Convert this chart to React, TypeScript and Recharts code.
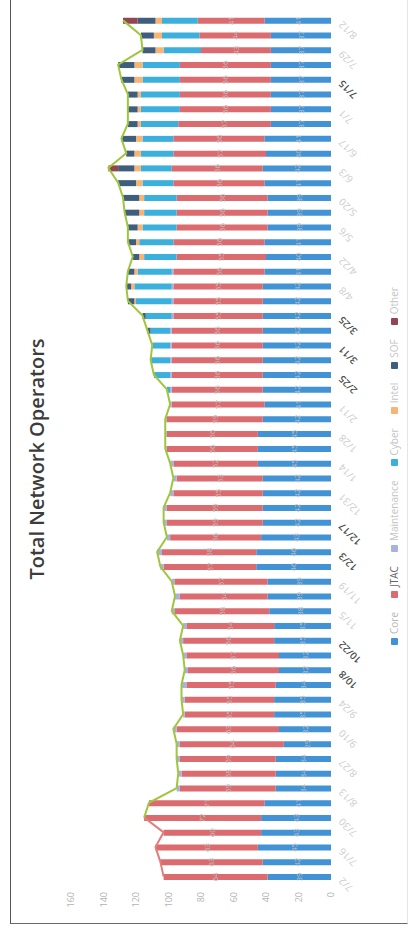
import React from 'react';
import { ComposedChart, Bar, Line, XAxis, YAxis, LabelList } from 'recharts';

// chart is laid out landscape, then turned a quarter turn to sit in the page
const CHART_W = 930;
const CHART_H = 396;

const weeks = [
  '7/2', '7/9', '7/16', '7/23', '7/30', '8/6', '8/13', '8/20', '8/27', '9/3',
  '9/10', '9/17', '9/24', '10/1', '10/8', '10/15', '10/22', '10/29', '11/5', '11/12',
  '11/19', '11/26', '12/3', '12/10', '12/17', '12/24', '12/31', '1/7', '1/14', '1/21',
  '1/28', '2/4', '2/11', '2/18', '2/25', '3/4', '3/11', '3/18', '3/25', '4/1',
  '4/8', '4/15', '4/22', '4/29', '5/6', '5/13', '5/20', '5/27', '6/3', '6/10',
  '6/17', '6/24', '7/1', '7/8', '7/15', '7/22', '7/29', '8/5', '8/12',
];

const core = [
  39, 42, 45, 43, 43, 41, 34, 34, 34, 29, 32, 35, 35, 34, 32, 32, 35, 35, 38, 39,
  39, 46, 46, 43, 42, 42, 42, 42, 45, 45, 45, 42, 41, 42, 42, 42, 42, 42, 42, 42,
  42, 41, 40, 41, 39, 39, 39, 41, 42, 40, 41, 37, 37, 37, 37, 37, 37, 37, 41,
];
const jtac = [
  64, 63, 63, 60, 72, 71, 59, 58, 59, 64, 63, 55, 55, 55, 56, 57, 56, 54, 58, 54,
  57, 57, 58, 56, 59, 59, 55, 53, 52, 56, 56, 59, 57, 56, 56, 56, 56, 56, 55, 55,
  55, 56, 55, 56, 56, 56, 56, 56, 56, 57, 56, 57, 56, 56, 56, 56, 43, 44, 41,
];
const maintenance = [
  0, 0, 0, 0, 0, 0, 2, 2, 2, 2, 2, 1, 2, 3, 2, 2, 2, 2, 2, 3,
  2, 2, 3, 2, 2, 2, 2, 2, 2, 1, 1, 1, 1, 1, 1, 1, 1, 1, 1, 1,
  1, 1, 0, 0, 0, 0, 0, 0, 0, 0, 0, 0, 0, 0, 0, 0, 0, 0, 0,
];
const cyber = [
  0, 0, 0, 0, 0, 0, 0, 0, 0, 0, 0, 0, 0, 0, 0, 0, 0, 0, 0, 0,
  0, 0, 0, 0, 0, 0, 0, 0, 0, 0, 0, 0, 0, 2, 10, 12, 11, 12, 16, 22,
  23, 21, 20, 21, 21, 20, 20, 19, 19, 20, 19, 23, 24, 24, 23, 23, 23, 23, 22,
];
const intel = [
  0, 0, 0, 0, 0, 0, 0, 0, 0, 0, 0, 0, 0, 0, 0, 0, 0, 0, 0, 0,
  0, 0, 0, 0, 0, 0, 0, 0, 0, 0, 0, 0, 0, 0, 0, 0, 0, 0, 0, 1,
  2, 2, 3, 2, 3, 3, 3, 4, 4, 4, 4, 2, 2, 2, 5, 5, 5, 5, 4,
];
const sof = [
  0, 0, 0, 0, 0, 0, 0, 0, 0, 0, 0, 0, 0, 0, 0, 0, 0, 0, 0, 0,
  0, 0, 0, 0, 0, 0, 0, 0, 0, 0, 0, 0, 0, 0, 0, 0, 0, 2, 2, 4,
  3, 4, 4, 5, 6, 9, 10, 11, 10, 5, 9, 6, 6, 6, 8, 10, 8, 8, 11,
];
const other = [
  0, 0, 0, 0, 0, 0, 0, 0, 0, 0, 0, 0, 0, 0, 0, 0, 0, 0, 0, 0,
  0, 0, 0, 0, 0, 0, 0, 0, 0, 0, 0, 0, 0, 0, 0, 0, 0, 0, 0, 0,
  0, 0, 0, 0, 0, 0, 0, 0, 6, 0, 0, 0, 0, 0, 0, 0, 0, 0, 9,
];

// the old count format ran until the 5th week, the new one picks up from there
const SWITCH_WEEK = 4;

const darkLabels = ['10/8', '10/22', '12/3', '12/17', '2/25', '3/11', '3/25', '7/15'];

const series = [
  { key: 'core', name: 'Core', color: '#4193d6', text: '#b8b8b8' },
  { key: 'jtac', name: 'JTAC', color: '#dc6b6f', text: '#666' },
  { key: 'maintenance', name: 'Maintenance', color: '#a9b1e0', text: '#c4c4c4' },
  { key: 'cyber', name: 'Cyber', color: '#3cb0dc', text: '#c4c4c4' },
  { key: 'intel', name: 'Intel', color: '#f8b472', text: '#c4c4c4' },
  { key: 'sof', name: 'SOF', color: '#3f5e7e', text: '#c4c4c4' },
  { key: 'other', name: 'Other', color: '#944552', text: '#c4c4c4' },
];

const rows = weeks.map((week, i) => {
  const total = core[i] + jtac[i] + maintenance[i] + cyber[i] + intel[i] + sof[i] + other[i];
  return {
    week,
    core: core[i],
    jtac: jtac[i],
    maintenance: maintenance[i],
    cyber: cyber[i],
    intel: intel[i],
    sof: sof[i],
    other: other[i],
    oldTotal: i <= SWITCH_WEEK ? total : null,
    total: i >= SWITCH_WEEK ? total : null,
  };
});

const WeekTick = (props: any) => {
  const { x, y, payload } = props;
  const dark = darkLabels.includes(payload.value);
  return (
    <text
      x={x}
      y={y + 4}
      transform={`rotate(-45 ${x} ${y + 4})`}
      textAnchor="end"
      fontSize={10}
      fontWeight={dark ? 600 : 400}
      fill={dark ? '#4a4a4a' : '#cdcdcd'}
    >
      {payload.value}
    </text>
  );
};

// legend kept in plain html: recharts measures its own legend box, which the rotation would skew
const KeyRow = () => (
  <div
    style={{
      position: 'absolute',
      top: 376,
      left: 0,
      width: CHART_W,
      display: 'flex',
      justifyContent: 'center',
      fontSize: 10,
      lineHeight: '14px',
    }}
  >
    {series.map((s) => (
      <div key={s.key} style={{ display: 'flex', alignItems: 'center', marginRight: 14 }}>
        <span style={{ width: 7, height: 7, background: s.color, marginRight: 4, borderRadius: 1 }} />
        <span style={{ color: s.text }}>{s.name}</span>
      </div>
    ))}
  </div>
);

export default function App() {
  return (
    <div
      style={{
        position: 'absolute',
        left: 10,
        top: -6,
        width: 398,
        height: 930,
        boxSizing: 'border-box',
        borderLeft: '1px solid #555',
        borderBottom: '1px solid #6a6a6a',
        borderRight: '1px solid #e6e6e6',
        background: '#fff',
        overflow: 'hidden',
      }}
    >
      <div
        style={{
          position: 'absolute',
          left: 0,
          top: 0,
          width: CHART_W,
          height: CHART_H,
          transformOrigin: '0 0',
          transform: `translateY(${CHART_W}px) rotate(-90deg)`,
          fontFamily: '"Open Sans", "Liberation Sans", sans-serif',
        }}
      >
        <ComposedChart
          width={CHART_W}
          height={CHART_H}
          data={rows}
          margin={{ top: 60, right: 19, bottom: 22, left: 0 }}
          barSize={6}
        >
          <XAxis
            dataKey="week"
            interval={1}
            axisLine={false}
            tickLine={false}
            height={54}
            tick={<WeekTick />}
          />
          <YAxis
            width={40}
            domain={[0, 160]}
            ticks={[0, 20, 40, 60, 80, 100, 120, 140, 160]}
            axisLine={false}
            tickLine={false}
            tick={{ fontSize: 9, fill: '#b4b4b4' }}
          />
          {series.map((s) => (
            <Bar
              key={s.key}
              dataKey={s.key}
              name={s.name}
              stackId="ops"
              fill={s.color}
              isAnimationActive={false}
            >
              {(s.key === 'core' || s.key === 'jtac') && (
                <LabelList dataKey={s.key} position="center" fontSize={8} fill="#c2c2c2" />
              )}
            </Bar>
          ))}
          <Line
            dataKey="oldTotal"
            type="linear"
            stroke="#e27d7d"
            strokeWidth={2}
            dot={false}
            isAnimationActive={false}
          />
          <Line
            dataKey="total"
            type="linear"
            stroke="#a0c63d"
            strokeWidth={2}
            dot={false}
            isAnimationActive={false}
          />
        </ComposedChart>
        <KeyRow />
        <div
          style={{
            position: 'absolute',
            top: 12,
            left: 0,
            width: '100%',
            textAlign: 'center',
            fontSize: 20,
            fontWeight: 600,
            color: '#3c3c3c',
          }}
        >
          Total Network Operators
        </div>
      </div>
    </div>
  );
}
